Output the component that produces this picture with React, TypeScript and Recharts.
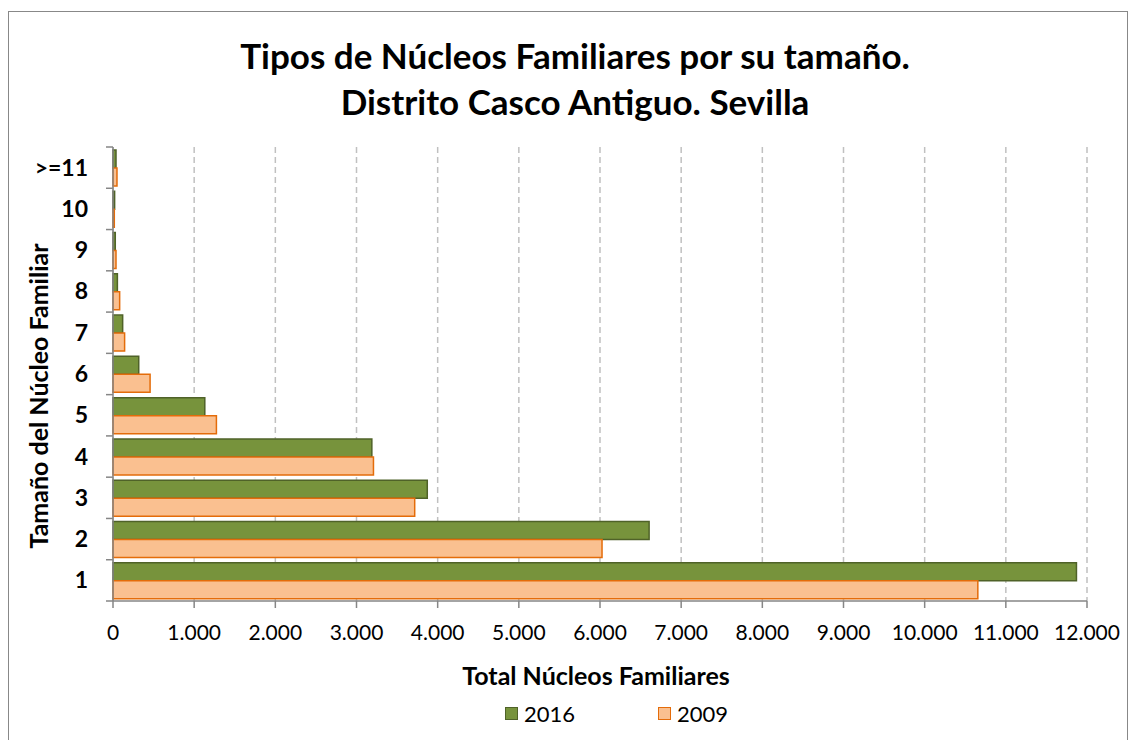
import React from 'react';
import { BarChart, Bar, XAxis, YAxis, CartesianGrid } from 'recharts';

const categories = ['1', '2', '3', '4', '5', '6', '7', '8', '9', '10', '>=11'];
const values2016 = [11870, 6605, 3872, 3189, 1131, 317, 119, 54, 28, 20, 37];
const values2009 = [10655, 6025, 3717, 3209, 1274, 457, 143, 82, 37, 16, 49];
const xTicks = [0, 1000, 2000, 3000, 4000, 5000, 6000, 7000, 8000, 9000, 10000, 11000, 12000];
const seriesNames = ['2016', '2009'];

const FONT = 'Lato, "Open Sans", sans-serif';
const W = 1131;
const H = 740;
const PLOT_TOP = 147;
const PLOT_BOTTOM = 601;
const PLOT_LEFT = 113;
const PLOT_RIGHT = 1087;
const BAND = (PLOT_BOTTOM - PLOT_TOP) / categories.length;

const data = categories.map((c, i) => ({ name: c, v2016: values2016[i], v2009: values2009[i] }));

const fmt = (n: number) => n.toString().replace(/\B(?=(\d{3})+(?!\d))/g, '.');

const YTick = (props: any) => {
  const { y, payload, index } = props;
  const ax = PLOT_LEFT;
  return (
    <g>
      <line x1={ax - 7} x2={ax} y1={y - BAND / 2} y2={y - BAND / 2} stroke="#868686" strokeWidth={1.5} />
      {index === 0 && <line x1={ax - 7} x2={ax} y1={y + BAND / 2} y2={y + BAND / 2} stroke="#868686" strokeWidth={1.5} />}
      <text x={88} y={y} dy={8} textAnchor="end" fontFamily={FONT} fontWeight={700} fontSize={23} fill="#000">
        {payload.value}
      </text>
    </g>
  );
};

const legendBox = (fill: string, stroke: string) => ({
  width: 11,
  height: 11,
  background: fill,
  border: `1.5px solid ${stroke}`,
  marginRight: 6,
});

export default function App() {
  return (
    <div style={{ position: 'absolute', left: 0, top: 0, width: W, height: H, background: '#fff', overflow: 'hidden' }}>
      <div style={{ position: 'absolute', left: 8, top: 11, width: 1118, height: 760, border: '1px solid #888' }} />
      <div style={{ position: 'absolute', left: 0, top: 32, width: 1150, textAlign: 'center', fontFamily: FONT, fontWeight: 700, fontSize: 35, lineHeight: '46px', color: '#000' }}>
        Tipos de Núcleos Familiares por su tamaño.
        <br />
        Distrito Casco Antiguo. Sevilla
      </div>
      <div style={{ position: 'absolute', left: 38, top: 396, transform: 'translate(-50%, -50%) rotate(-90deg)', whiteSpace: 'nowrap', fontFamily: FONT, fontWeight: 700, fontSize: 25, color: '#000' }}>
        Tamaño del Núcleo Familiar
      </div>
      <div style={{ position: 'absolute', left: 0, top: 660, width: 1192, textAlign: 'center', fontFamily: FONT, fontWeight: 700, fontSize: 25, color: '#000' }}>
        Total Núcleos Familiares
      </div>
      <div style={{ position: 'absolute', left: 0, top: 0 }}>
        <BarChart
          width={W}
          height={H}
          data={data}
          layout="vertical"
          barCategoryGap={3}
          barGap={0}
          margin={{ top: PLOT_TOP, right: W - PLOT_RIGHT, bottom: H - PLOT_BOTTOM - 30, left: PLOT_LEFT - 60 }}
        >
          <CartesianGrid horizontal={false} stroke="#C0C0C0" strokeDasharray="6 4" strokeWidth={1.5} />
          <XAxis
            type="number"
            domain={[0, 12000]}
            ticks={xTicks}
            tickFormatter={fmt}
            height={30}
            stroke="#868686"
            tickSize={7}
            tickLine={{ stroke: '#868686', strokeWidth: 1.5 }}
            axisLine={{ stroke: '#868686', strokeWidth: 1.5 }}
            tick={{ fill: '#000', fontFamily: FONT, fontSize: 21, dy: 15 }}
          />
          <YAxis
            type="category"
            dataKey="name"
            reversed
            width={60}
            tickLine={false}
            axisLine={{ stroke: '#868686', strokeWidth: 1.5 }}
            tick={<YTick />}
            interval={0}
          />
          <Bar dataKey="v2016" name={seriesNames[0]} fill="#77933C" stroke="#4F6228" strokeWidth={1.5} isAnimationActive={false} />
          <Bar dataKey="v2009" name={seriesNames[1]} fill="#FAC090" stroke="#E46C0A" strokeWidth={1.5} isAnimationActive={false} />
        </BarChart>
      </div>
      <div style={{ position: 'absolute', left: 505, top: 700, display: 'flex', alignItems: 'center', fontFamily: FONT, fontSize: 22, color: '#000' }}>
        <span style={legendBox('#77933C', '#4F6228')} />
        {seriesNames[0]}
      </div>
      <div style={{ position: 'absolute', left: 658, top: 700, display: 'flex', alignItems: 'center', fontFamily: FONT, fontSize: 22, color: '#000' }}>
        <span style={legendBox('#FAC090', '#E46C0A')} />
        {seriesNames[1]}
      </div>
    </div>
  );
}
